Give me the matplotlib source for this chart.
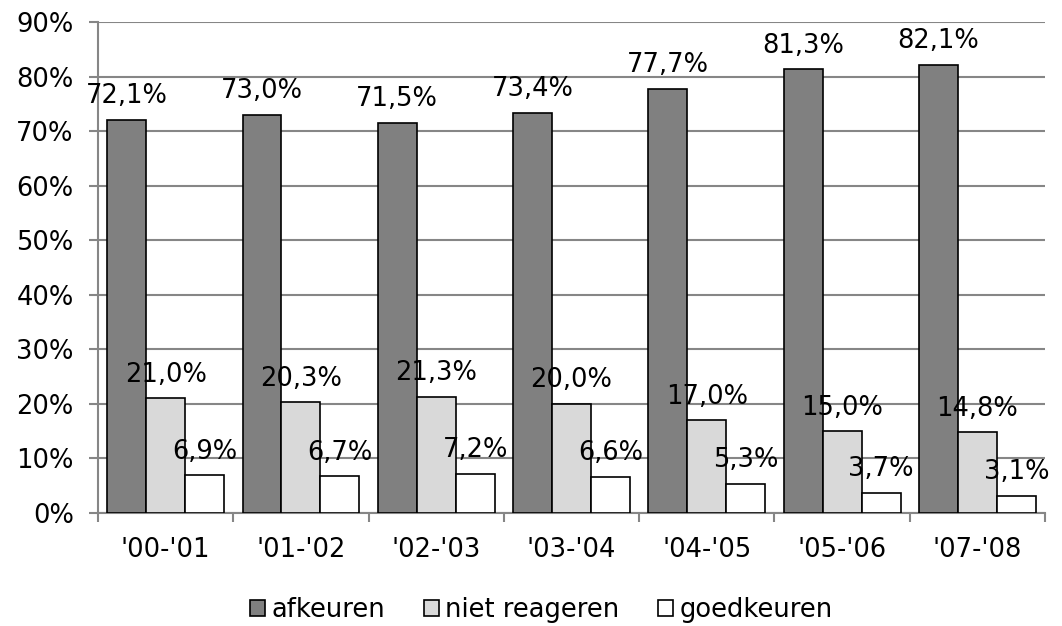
import numpy as np
import matplotlib.pyplot as plt
import matplotlib as mpl
from matplotlib.ticker import FuncFormatter

mpl.rcParams['font.family'] = 'DejaVu Sans'

years = ["'00-'01", "'01-'02", "'02-'03", "'03-'04", "'04-'05", "'05-'06", "'07-'08"]
afkeuren = [72.1, 73.0, 71.5, 73.4, 77.7, 81.3, 82.1]
niet_reageren = [21.0, 20.3, 21.3, 20.0, 17.0, 15.0, 14.8]
goedkeuren = [6.9, 6.7, 7.2, 6.6, 5.3, 3.7, 3.1]

series = [(afkeuren, 'afkeuren', '#808080'),
          (niet_reageren, 'niet reageren', '#d9d9d9'),
          (goedkeuren, 'goedkeuren', '#ffffff')]

fig = plt.figure(figsize=(10.62, 6.26), dpi=100)
ax = fig.add_axes([0.0923, 0.1805, 0.8917, 0.7844])

x = np.arange(len(years))
w = 0.288
fs = 18.5
for i, (vals, name, col) in enumerate(series):
    pos = x + (i - 1) * w
    bars = ax.bar(pos, vals, w, color=col, edgecolor='black', linewidth=1.2,
                  label=name, zorder=3)
    for b, v in zip(bars, vals):
        ax.annotate(('%.1f' % v).replace('.', ',') + '%',
                    (b.get_x() + b.get_width() / 2, v),
                    xytext=(0, 12), textcoords='offset points',
                    ha='center', va='baseline', fontsize=fs, zorder=4)

ax.set_xlim(-0.5, len(years) - 0.5)
ax.set_ylim(0, 90)
ax.set_yticks(np.arange(0, 91, 10))
ax.yaxis.set_major_formatter(FuncFormatter(lambda v, p: '%d%%' % v))
ax.grid(axis='y', color='#868686', linewidth=1.5, zorder=0)

ax.set_xticks(x)
ax.set_xticklabels(years)
ax.set_xticks(np.arange(-0.5, len(years), 1), minor=True)
ax.tick_params(axis='x', which='major', length=0, pad=17, labelsize=fs)
ax.tick_params(axis='x', which='minor', length=6.5, width=1.5, color='#868686')
ax.tick_params(axis='y', length=6.5, width=1.5, color='#868686', labelsize=fs, pad=11)

for s in ['top', 'right']:
    ax.spines[s].set_visible(False)
for s in ['left', 'bottom']:
    ax.spines[s].set_color('#868686')
    ax.spines[s].set_linewidth(1.5)

fig.legend(loc='center', bbox_to_anchor=(0.51, 0.026), ncol=3, frameon=False,
           fontsize=fs, handlelength=0.58, handleheight=0.58, handletextpad=0.25,
           columnspacing=1.5, borderpad=0)

fig.savefig('out.png', dpi=100)
